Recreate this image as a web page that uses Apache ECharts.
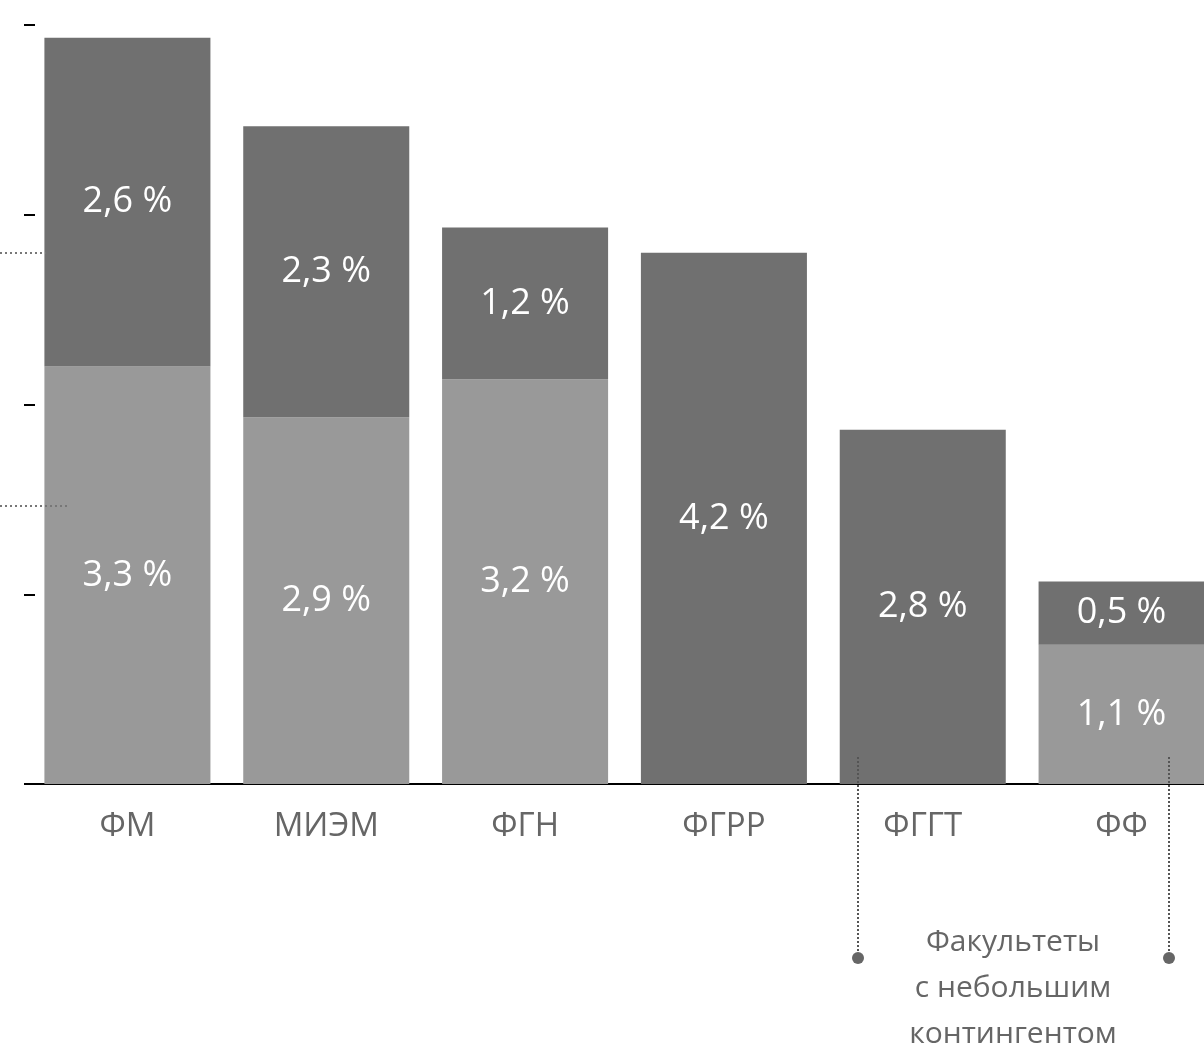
<!DOCTYPE html>
<html><head><meta charset="utf-8">
<script src="https://cdn.jsdelivr.net/npm/echarts@6/dist/echarts.min.js"></script>
<style>html,body{margin:0;padding:0;background:#fff}#c{width:1204px;height:1046px}</style>
</head><body><div id="c"></div>
<script>
const categories = ['ФМ', 'МИЭМ', 'ФГН', 'ФГРР', 'ФГГТ', 'ФФ'];
const lowerValues = [3.3, 2.9, 3.2, null, null, 1.1];
const upperValues = [2.6, 2.3, 1.2, 4.2, 2.8, 0.5];
const yTicks = { min: 0, max: 6, interval: 1.5 };
const refLines = [4.2, 2.2];
const noteLines = ['Факультеты', 'с небольшим', 'контингентом'];

const FONT = '"Open Sans", "Noto Sans", sans-serif';
const fmt = p => p.value == null ? '' : String(p.value).replace('.', ',') + ' %';
const labelStyle = { show: true, position: 'inside', color: '#fff', fontSize: 36, fontFamily: FONT, formatter: fmt };

const chart = echarts.init(document.getElementById('c'), null, { renderer: 'canvas' });
chart.setOption({
  animation: false,
  grid: { left: 28, right: -17, top: 25, bottom: 262, outerBoundsMode: 'none', containLabel: false },
  xAxis: {
    type: 'category', data: categories,
    axisLine: { show: true, lineStyle: { color: '#000', width: 2 } },
    axisTick: { show: false },
    axisLabel: { color: '#666', fontSize: 33, fontFamily: FONT, margin: 26 }
  },
  yAxis: {
    type: 'value', min: yTicks.min, max: yTicks.max, interval: yTicks.interval,
    offset: -7,
    axisLine: { show: false },
    axisTick: { show: true, length: 11, lineStyle: { color: '#000', width: 2 } },
    axisLabel: { show: false },
    splitLine: { show: false }
  },
  series: [
    { type: 'bar', stack: 's', data: lowerValues, barCategoryGap: '16.5%',
      itemStyle: { color: '#999999' }, label: labelStyle },
    { type: 'bar', stack: 's', data: upperValues, barCategoryGap: '16.5%',
      itemStyle: { color: '#707070' }, label: labelStyle }
  ]
});

const refEnds = [46, 69];
const g = [];
refLines.forEach((v, i) => {
  const y = Math.round(chart.convertToPixel({ yAxisIndex: 0 }, v));
  g.push({ type: 'line', z: 100, shape: { x1: 0, y1: y, x2: refEnds[i], y2: y },
    style: { stroke: '#777', lineWidth: 2, lineDash: [2, 3] } });
});
[858, 1169].forEach(x => {
  g.push({ type: 'line', z: 100, shape: { x1: x, y1: 757, x2: x, y2: 958 },
    style: { stroke: '#555', lineWidth: 2, lineDash: [2, 2] } });
  g.push({ type: 'circle', z: 100, shape: { cx: x, cy: 958, r: 6 }, style: { fill: '#666' } });
});
noteLines.forEach((t, i) => {
  g.push({ type: 'text', z: 100, x: 1013, y: 942 + i * 46,
    style: { text: t, fill: '#666', font: '30px ' + FONT, textAlign: 'center', textVerticalAlign: 'middle' } });
});
chart.setOption({ graphic: g });
</script></body></html>
